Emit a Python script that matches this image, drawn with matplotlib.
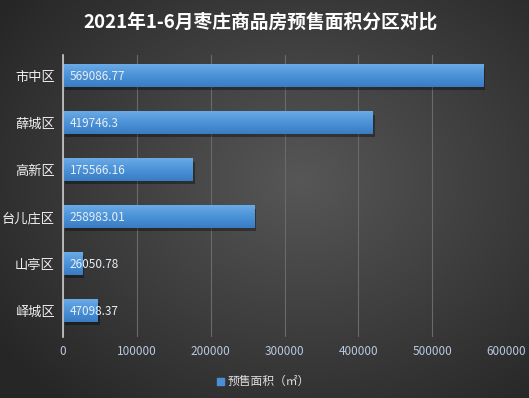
import numpy as np
import matplotlib.pyplot as plt
from matplotlib.colors import LinearSegmentedColormap

plt.rcParams['font.family'] = ['Noto Sans CJK SC', 'DejaVu Sans']

# 数据
areas = ['市中区', '薛城区', '高新区', '台儿庄区', '山亭区', '峄城区']
values = [569086.77, 419746.3, 175566.16, 258983.01, 26050.78, 47098.37]
labels = ['569086.77', '419746.3', '175566.16', '258983.01', '26050.78', '47098.37']
xticks = [0, 100000, 200000, 300000, 400000, 500000, 600000]

fig = plt.figure(figsize=(5.29, 3.98), dpi=100)

# fond dégradé radial
bg = fig.add_axes([0, 0, 1, 1])
yy, xx = np.mgrid[0:398, 0:529]
d = np.sqrt(((xx - 300) / 330.0) ** 2 + ((yy - 180) / 260.0) ** 2)
g = np.clip(0.34 - 0.17 * d, 0.15, 0.34)
bg.imshow(np.dstack([g, g, g]), aspect='auto', extent=[0, 1, 0, 1])
bg.axis('off')

ax = fig.add_axes([63 / 529, 1 - 337 / 398, 443 / 529, 282 / 398])
ax.set_facecolor('none')
y = np.arange(len(areas))
h = 0.47

cmap = LinearSegmentedColormap.from_list('b', ['#6aaae6', '#4b92d8', '#3a7cc4'])
grad = np.linspace(0, 1, 50).reshape(-1, 1)

# ombre + barres en dégradé (clair en haut)
ax.barh(y + 0.07, values, height=h, left=3000, color='black', alpha=0.35, zorder=2)
bars = ax.barh(y, values, height=h, color='none', zorder=3)
for b in bars:
    x0, y0 = b.get_x(), b.get_y()
    ax.imshow(grad, cmap=cmap, aspect='auto', zorder=3,
              extent=[x0, x0 + b.get_width(), y0 + b.get_height(), y0])

for yi, t in zip(y, labels):
    ax.text(9000, yi, t, va='center', ha='left', color='#e8eef5', fontsize=8.5, zorder=4)

ax.set_xlim(0, 600000)
ax.set_ylim(5.553, -0.447)
ax.set_xticks(xticks)
ax.set_xticklabels([str(v) for v in xticks], color='#b8c8e0', fontsize=8.5)
ax.set_yticks(y)
ax.set_yticklabels(areas, color='#f0f0f0', fontsize=9.5)
ax.tick_params(length=0, pad=6)
ax.grid(axis='x', color='#6a6a6a', linewidth=0.8, zorder=0)
for s in ['top', 'right', 'bottom']:
    ax.spines[s].set_visible(False)
ax.spines['left'].set_color('#c8c8c8')
ax.spines['left'].set_linewidth(1.2)
ax.spines['left'].set_zorder(5)

fig.text(0.492, 1 - 22 / 398, '2021年1-6月枣庄商品房预售面积分区对比', ha='center', va='center',
         color='white', fontsize=13.5, fontweight='bold')

# légende
fig.patches.append(plt.Rectangle((217 / 529, 1 - 385 / 398), 7 / 529, 7 / 398,
                                 transform=fig.transFigure, color='#4a8fd6'))
fig.text(228 / 529, 1 - 381 / 398, '预售面积（㎡）', ha='left', va='center',
         color='#e0e0e0', fontsize=8.5)

fig.savefig('out.png')
